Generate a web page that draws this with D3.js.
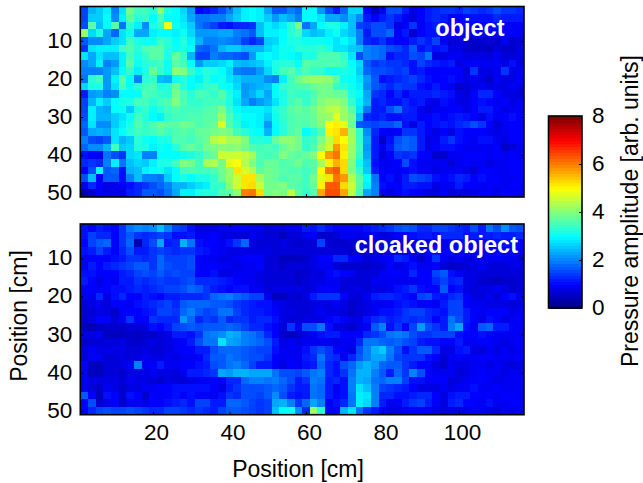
<!DOCTYPE html>
<html lang="en">
<head>
    <meta charset="UTF-8">
    <title>Pressure amplitude maps</title>
    <script src="https://d3js.org/d3.v7.min.js"></script>
    <style>
        html, body { margin: 0; padding: 0; background: #fff; }
        svg { display: block; }
        text { font-family: "Liberation Sans", Arial, sans-serif; fill: #000; }
        .cell { shape-rendering: crispEdges; }
        .tick text { font-size: 22.5px; }
        .tick line { stroke: #000; stroke-width: 1; }
        .domain { display: none; }
        .frame { fill: none; stroke: #000; stroke-width: 1.6; }
    </style>
</head>
<body>
<div id="chart"></div>
<script>
// amplitude per cell, rows top to bottom, 25 rows of 58 (2 cm sampling)
const objectRows = [
[1.5,2.4,2.6,2.9,2.0,2.8,3.9,3.5,3.5,3.3,4.1,3.2,3.0,2.7,2.2,1.0,1.1,1.3,1.6,2.0,2.5,2.9,3.0,2.9,2.3,1.7,1.7,2.0,1.8, 3.0,3.0,2.2,1.6,1.2,1.8,2.7,2.7,1.0,0.5,1.0,1.6,1.6,1.2,0.8,1.0,1.2,1.3,1.4,1.4,1.3,1.5,1.4,1.3,1.4,1.6,1.4,1.4,1.3],
[1.5,2.6,2.6,3.0,2.1,2.9,3.7,3.3,3.4,3.0,3.6,3.0,3.0,2.8,2.3,1.9,1.9,2.0,2.0,2.3,2.6,2.9,3.0,2.9,2.6,2.2,2.5,2.3,2.0, 3.0,3.0,2.8,2.3,2.3,2.1,2.5,2.1,1.2,1.0,1.2,1.4,1.2,0.9,0.7,1.0,1.2,1.3,1.2,1.0,1.0,1.1,1.1,1.1,1.1,1.3,1.2,1.2,1.2],
[1.6,3.7,2.5,3.0,3.7,1.9,3.3,2.9,2.1,3.2,3.4,4.9,3.1,2.9,2.6,1.9,1.7,1.5,1.2,1.1,1.3,1.3,1.4,2.5,2.9,2.7,2.9,3.3,3.9, 1.9,2.3,3.0,3.2,3.2,2.9,2.5,1.5,1.4,1.6,1.6,1.4,0.8,1.0,1.4,0.9,1.1,1.2,1.1,1.0,1.0,1.1,1.0,1.0,1.0,1.1,0.9,0.9,1.0],
[4.2,2.7,3.2,2.3,1.8,2.8,3.1,2.3,2.3,2.9,3.0,3.0,2.9,3.1,2.7,2.2,2.2,2.2,2.3,2.3,2.0,1.9,1.7,2.5,2.9,2.9,3.0,3.3,3.5, 2.7,2.5,2.6,2.9,3.1,2.7,2.5,2.0,1.2,1.6,1.6,1.8,1.0,1.2,0.6,1.0,1.1,1.1,1.0,1.0,1.0,0.9,0.9,1.0,0.9,0.9,1.0,1.0,0.9],
[1.7,2.1,2.1,2.3,2.6,2.8,3.5,3.2,3.1,3.1,3.5,3.3,3.0,3.3,2.9,2.4,2.0,2.0,2.1,2.0,1.9,1.5,1.3,1.5,2.6,2.7,3.0,3.2,3.2, 3.1,3.1,3.1,3.0,2.8,3.0,2.8,2.0,1.3,1.2,1.4,1.1,1.0,1.0,1.2,1.4,1.2,1.5,0.9,0.7,0.7,0.7,0.6,0.6,0.7,0.6,0.9,0.6,0.7],
[1.4,2.8,2.9,2.9,2.9,3.5,3.6,3.3,3.6,3.7,3.7,3.3,3.1,3.2,3.0,1.8,1.7,1.9,2.4,2.6,2.6,2.4,2.4,2.4,2.7,2.9,3.1,3.1,3.3, 3.3,3.3,3.4,3.2,2.8,2.8,2.6,2.5,2.0,1.9,1.8,1.6,1.5,1.3,1.7,1.1,1.3,1.1,1.2,0.8,0.8,0.6,0.5,0.6,0.5,0.7,0.6,0.6,0.8],
[2.8,2.3,2.8,2.5,2.5,2.9,3.5,3.2,3.4,3.7,3.7,3.2,3.8,3.4,2.4,1.5,1.5,2.0,1.8,1.8,1.7,1.6,2.2,2.9,3.0,2.9,3.1,3.0,2.9, 3.2,3.2,3.6,3.6,3.6,3.4,2.8,1.6,2.0,1.9,1.8,1.1,1.3,1.3,1.6,1.5,1.9,0.8,0.8,0.9,0.9,0.8,0.8,0.8,0.7,0.9,0.7,0.7,0.8],
[2.1,2.3,2.9,2.0,2.2,2.9,3.7,3.1,3.3,3.4,3.5,3.1,3.7,3.5,3.0,2.2,2.6,2.6,2.7,2.9,2.5,2.4,2.5,2.6,2.9,3.2,3.3,3.3,3.0, 3.7,3.6,3.6,3.6,3.6,3.5,3.0,2.7,1.7,1.4,1.5,1.4,1.4,1.3,1.1,1.5,1.3,1.2,1.1,1.2,0.8,0.9,1.0,0.9,0.9,0.9,0.8,1.1,0.8],
[2.0,2.0,2.0,2.2,2.5,3.0,3.4,2.9,3.2,3.8,3.4,3.1,4.1,4.0,3.4,3.1,3.3,3.2,3.0,2.7,2.0,1.9,1.9,2.2,2.7,3.2,3.5,3.7,3.4, 3.6,3.4,3.4,3.1,3.1,3.2,3.1,2.6,1.8,1.6,1.6,1.5,1.4,1.5,1.1,1.2,1.0,1.0,1.0,1.0,1.0,0.7,1.4,0.8,0.8,0.9,1.4,0.8,0.9],
[1.9,3.3,3.5,2.2,2.9,3.7,3.0,2.0,3.3,3.4,2.5,2.4,3.1,3.3,3.0,2.9,3.3,3.0,3.1,2.8,2.6,2.4,2.4,2.4,2.1,2.0,2.9,3.5,3.9, 4.1,4.2,4.2,4.1,3.7,3.1,3.0,2.8,2.2,1.7,1.1,1.2,1.3,1.4,1.5,1.3,1.1,1.0,1.0,1.1,1.0,0.8,0.9,0.8,0.6,0.9,0.8,0.8,1.0],
[2.7,3.2,3.2,2.2,2.8,3.6,3.1,3.3,3.5,3.6,3.2,3.3,3.8,3.3,3.0,3.2,3.4,3.5,3.1,3.0,2.7,2.2,2.3,2.4,2.5,3.0,3.4,3.5,3.6, 3.6,3.8,3.9,3.9,3.4,3.3,3.1,2.9,2.1,1.7,1.5,1.3,1.5,1.4,1.4,1.1,1.0,1.2,1.0,0.9,0.6,0.7,0.8,0.9,0.8,0.8,0.8,0.9,0.8],
[1.2,2.2,2.3,2.0,2.1,3.0,3.0,3.0,3.6,3.5,3.4,3.3,3.9,3.6,3.3,3.6,3.5,3.4,3.7,3.2,2.9,2.2,2.4,2.7,2.3,3.0,3.2,3.5,3.4, 3.4,3.6,3.9,3.9,3.8,3.8,3.2,3.0,2.3,1.4,1.3,1.0,1.3,1.0,1.2,1.2,1.2,1.3,1.2,1.1,0.8,0.7,1.0,1.3,1.3,1.0,0.8,0.8,0.7],
[1.5,2.4,2.9,2.6,3.0,3.2,3.2,3.6,3.5,3.3,3.5,3.6,4.0,3.6,3.4,3.4,3.5,3.5,3.5,3.2,2.8,2.3,2.0,2.2,2.4,2.8,3.2,3.5,3.7, 3.4,3.7,4.0,4.2,4.2,4.0,3.4,2.9,2.4,1.2,1.3,1.1,1.1,1.3,1.1,1.2,0.9,0.8,1.1,1.0,0.8,0.8,1.0,1.1,1.0,0.9,1.0,0.8,0.9],
[1.5,2.9,2.4,2.3,3.0,3.1,2.6,3.2,3.4,3.1,3.3,3.5,3.6,3.5,3.5,3.5,3.6,3.7,4.0,3.4,3.0,2.9,2.9,2.9,2.8,3.2,3.4,3.7,3.8, 3.7,3.9,4.2,4.4,4.5,4.2,3.7,2.8,1.9,1.2,1.2,1.6,1.9,1.3,1.2,0.9,0.7,0.9,0.9,1.0,1.0,0.8,1.0,1.2,1.2,1.0,0.8,0.9,0.9],
[1.6,2.9,2.4,2.4,2.6,2.8,3.1,3.5,3.3,3.0,2.9,3.4,3.5,3.5,3.6,3.6,3.7,3.7,4.2,3.6,3.2,3.0,3.0,2.9,2.6,3.1,3.4,3.6,3.7, 3.7,3.8,4.1,4.2,4.8,4.2,3.9,2.5,1.3,1.2,1.3,1.1,1.1,1.2,1.2,0.9,1.0,1.1,1.0,1.1,1.2,1.1,1.0,0.8,1.1,0.9,1.0,1.1,1.0],
[1.8,2.8,2.1,2.1,2.6,2.9,3.2,3.6,3.4,3.6,3.8,3.7,3.7,3.9,3.8,3.6,3.7,3.8,4.7,3.6,3.3,2.9,3.0,2.9,2.2,3.0,3.3,3.6,3.7, 3.6,3.8,4.0,5.0,5.1,4.8,3.8,1.7,1.6,1.5,1.6,1.6,1.8,1.1,0.8,1.2,1.0,1.1,1.2,1.1,1.3,1.4,1.6,1.4,1.0,0.7,0.9,1.0,1.0],
[1.7,2.3,2.4,2.3,2.8,3.0,3.3,3.5,3.4,3.5,3.7,3.5,3.6,3.7,3.6,3.8,3.8,3.9,4.0,3.9,3.5,3.3,3.1,3.0,2.4,3.0,3.3,3.6,3.8, 3.0,3.3,3.6,5.1,5.2,5.6,4.2,3.4,2.1,1.3,1.0,0.9,1.0,1.4,1.4,1.2,1.0,0.8,1.0,0.8,1.1,1.0,1.0,1.0,0.9,0.8,0.9,1.0,1.0],
[2.0,1.6,1.5,1.7,2.8,2.4,2.6,3.3,3.1,3.0,3.2,3.2,3.6,3.6,3.5,3.7,3.8,4.4,4.6,4.3,4.3,4.0,3.3,3.3,3.2,3.8,4.1,4.1,3.9, 3.4,3.5,4.0,4.5,5.3,5.0,4.3,3.4,2.3,1.2,0.6,1.1,1.6,1.8,1.7,1.2,0.8,0.9,1.2,1.4,1.1,1.0,0.9,1.1,1.1,0.9,0.8,1.0,1.0],
[1.8,2.1,2.1,2.4,3.5,2.6,2.7,3.3,3.2,2.9,3.1,3.0,3.3,3.7,3.8,3.6,3.9,4.0,4.1,4.0,4.1,3.9,3.6,3.5,3.6,3.5,3.8,4.0,3.9, 3.4,3.6,4.2,4.6,5.8,5.2,4.2,3.5,2.2,1.2,0.9,1.2,1.7,1.8,1.7,1.2,0.8,1.0,1.1,1.1,1.0,0.9,0.9,0.9,0.9,1.0,0.6,0.7,0.9],
[1.1,1.0,0.9,1.9,1.6,1.4,2.7,2.8,2.0,2.0,3.0,3.0,3.0,3.1,3.2,3.4,3.7,3.8,4.6,4.6,4.6,4.5,4.3,3.6,3.5,3.6,4.0,3.8,3.7, 3.8,4.0,5.0,5.8,6.1,5.1,4.2,3.4,2.3,1.2,0.7,1.0,1.4,1.3,1.4,1.0,1.0,0.6,0.6,0.9,0.9,1.0,1.0,1.0,0.9,1.0,0.9,1.0,0.9],
[1.3,1.4,1.3,2.0,2.9,1.9,2.5,2.7,2.6,2.9,3.2,3.2,3.5,4.0,3.9,3.5,4.3,4.4,3.9,4.8,5.0,4.4,4.0,3.6,3.8,3.8,3.6,3.7,3.9, 3.6,3.7,4.3,5.1,5.6,5.3,4.0,3.1,2.5,1.1,0.9,0.9,1.0,1.6,1.1,0.9,0.9,0.9,0.9,0.7,0.9,1.0,0.9,0.9,0.8,0.9,0.9,1.0,1.0],
[1.0,1.6,3.0,1.7,1.8,1.1,2.4,2.5,2.9,3.0,3.1,2.8,3.0,3.5,3.6,3.5,3.5,3.6,3.9,4.2,5.2,4.7,4.4,3.7,3.9,3.8,3.7,3.6,3.6, 3.5,3.7,5.0,6.1,6.3,5.3,4.0,3.4,2.6,1.2,0.9,1.0,0.9,1.0,1.1,0.9,0.9,0.8,0.9,0.9,0.9,0.8,0.7,1.0,1.0,0.9,0.9,1.0,1.0],
[1.6,2.5,1.0,1.7,1.7,1.1,2.0,2.5,2.0,2.0,1.9,2.6,3.0,3.2,3.0,3.2,3.2,3.4,3.8,4.2,4.6,5.2,5.2,4.3,3.9,3.8,3.6,3.7,3.7, 3.5,3.9,4.8,5.2,6.1,5.8,4.4,3.7,3.0,1.9,1.0,1.1,0.9,1.2,1.6,1.5,1.4,1.1,1.0,1.1,1.3,1.2,1.0,1.1,1.0,1.0,0.9,0.9,1.0],
[0.9,1.3,1.0,0.8,0.9,0.9,1.1,1.3,1.4,1.6,1.8,2.0,2.4,2.4,2.6,2.8,2.9,3.4,3.4,4.1,4.6,5.2,5.3,4.6,3.9,3.9,4.0,3.7,3.6, 3.5,3.8,5.1,6.3,6.3,5.3,4.6,3.7,2.9,2.0,1.1,1.0,1.0,1.2,1.2,1.1,1.1,0.8,0.9,0.9,1.2,1.0,1.0,0.9,1.0,0.9,0.9,1.0,1.0],
[0.4,0.6,0.9,0.8,0.8,0.8,1.2,1.3,1.7,1.7,1.6,1.9,2.3,2.9,2.9,3.2,3.3,3.3,3.6,3.7,4.1,6.0,6.1,5.3,3.9,4.0,3.9,4.5,3.7, 3.4,3.7,5.7,6.4,6.4,5.7,4.5,3.6,2.3,2.0,0.9,0.7,0.9,1.1,1.0,0.9,0.7,0.7,0.9,0.7,0.8,0.7,0.8,0.9,0.9,0.8,1.0,0.9,0.9]
];

const cloakedRows = [
[1.1,1.0,1.2,1.1,1.0,1.4,1.9,2.1,2.0,2.1,2.5,2.0,1.5,1.4,1.1,0.8,0.8,0.8,0.9,0.9,1.0,1.0,0.9,0.9,0.7,0.8,0.8,0.9,0.9, 1.2,1.1,1.3,1.1,1.0,1.0,1.0,1.0,1.1,1.2,1.3,1.4,1.6,1.7,1.6,1.3,1.3,1.5,1.5,1.4,1.3,1.2,1.6,1.2,1.9,1.6,2.1,1.7,1.6],
[1.1,1.5,1.3,1.3,1.0,1.4,1.7,1.4,1.3,1.4,1.5,1.4,1.1,1.1,1.2,0.9,0.9,1.0,0.8,0.8,0.7,0.7,0.9,0.8,0.7,0.7,0.5,0.7,0.7, 0.9,1.0,0.6,0.6,0.7,0.9,0.9,0.8,0.9,0.9,0.7,0.8,1.0,0.9,1.1,1.2,1.2,1.1,1.3,1.3,1.3,1.1,1.2,1.2,1.2,1.3,1.2,1.2,1.3],
[1.0,1.5,1.7,1.8,1.0,1.4,1.8,0.4,1.3,1.6,2.3,1.2,1.3,2.4,1.9,1.1,1.0,1.0,0.9,1.1,1.4,1.8,0.8,0.7,0.7,0.7,0.8,0.7,0.6, 0.7,0.7,1.5,0.7,0.6,0.6,0.7,0.8,0.7,0.6,0.7,0.8,0.7,0.7,0.9,0.9,0.8,0.8,0.9,1.0,1.0,1.0,1.0,1.0,1.0,1.1,1.1,1.0,1.0],
[1.1,1.2,1.5,1.2,1.0,1.3,1.6,1.2,1.2,1.4,1.5,1.4,1.3,1.4,1.4,1.2,1.1,1.0,0.9,0.8,0.8,0.8,0.8,0.8,0.8,0.7,0.7,0.7,0.7, 0.7,0.7,0.7,0.7,0.7,0.7,0.6,0.7,0.7,0.8,0.7,0.7,0.7,0.8,0.8,1.0,0.9,1.1,1.0,1.0,0.9,0.9,1.0,0.8,0.9,0.9,0.9,0.9,0.9],
[1.0,1.0,1.0,1.0,1.1,1.2,1.4,1.4,1.3,1.4,1.8,1.5,1.5,1.5,1.6,1.0,0.9,0.9,0.8,0.8,0.9,1.0,1.0,1.0,0.7,0.7,0.5,0.5,0.5, 0.6,0.8,1.0,1.0,1.3,1.3,1.0,0.9,0.7,0.8,0.9,1.0,1.3,1.2,0.9,0.6,0.9,1.4,0.9,0.8,0.9,0.8,0.8,0.8,0.9,0.9,0.9,0.9,0.8],
[0.9,1.2,1.0,1.2,1.3,1.4,1.5,1.7,1.7,1.4,1.8,1.6,1.5,1.5,1.6,1.0,1.0,1.0,0.9,0.9,0.8,0.9,0.9,1.0,0.7,0.7,0.6,0.7,0.7, 0.7,0.8,0.9,0.9,0.7,0.6,0.6,0.6,0.6,0.7,0.7,1.0,0.8,0.9,1.1,0.9,0.9,1.0,0.7,0.6,0.6,0.7,0.8,0.9,0.7,0.7,0.7,0.8,0.8],
[1.1,1.1,1.0,1.0,1.0,1.2,1.3,1.5,1.6,1.5,1.7,1.5,1.6,1.5,1.5,1.0,1.0,1.1,0.8,0.8,0.9,0.9,0.9,0.8,0.7,0.7,0.7,0.7,0.6, 0.6,0.8,0.7,1.0,1.1,1.0,0.9,0.7,0.7,0.7,0.9,1.0,1.0,0.9,1.3,1.0,1.0,1.5,1.7,1.1,0.9,0.8,0.8,0.7,0.7,0.7,0.7,0.7,0.7],
[1.2,1.0,0.8,1.0,0.9,1.2,1.2,1.4,1.3,1.4,1.5,1.4,1.4,1.5,1.6,1.3,1.3,1.3,1.2,1.1,1.0,0.9,0.9,0.8,0.7,0.7,0.7,0.7,0.6, 0.7,0.8,0.8,0.9,0.9,0.7,0.7,0.7,0.7,0.9,0.9,0.9,0.9,0.9,0.9,1.0,1.0,1.3,1.5,1.2,1.3,0.8,0.8,0.6,0.6,0.5,0.6,0.6,0.7],
[1.0,1.0,0.9,1.0,1.1,1.1,1.2,1.3,1.2,1.3,1.4,1.5,1.5,1.6,1.8,1.7,1.4,1.2,1.1,1.0,1.1,1.1,0.9,0.9,0.7,0.8,0.8,0.8,0.8, 0.7,0.8,1.0,1.0,0.9,0.7,0.8,0.8,0.7,0.8,0.8,0.9,1.1,1.2,1.4,1.1,1.0,1.0,1.7,1.0,1.1,0.8,0.7,0.8,0.8,0.9,0.8,0.6,0.7],
[0.9,0.9,1.3,0.8,1.1,1.3,1.0,1.0,1.2,1.1,1.0,1.2,1.2,1.3,1.3,1.3,1.4,1.8,1.9,2.0,1.8,1.7,1.5,1.5,0.9,0.5,0.5,0.7,0.6, 0.8,1.2,1.4,1.4,1.4,1.0,0.7,0.7,0.9,1.2,1.3,1.3,1.2,1.1,1.0,1.5,1.6,1.2,1.1,1.3,1.4,1.0,0.8,0.7,0.9,0.7,1.0,1.1,0.9],
[0.7,0.8,0.9,0.7,1.0,1.0,0.9,1.1,1.2,1.3,1.4,1.5,1.3,1.7,1.8,1.8,1.8,1.7,1.7,1.6,1.4,1.3,1.2,1.1,1.1,0.9,0.8,0.7,0.7, 0.7,0.8,0.8,0.8,0.9,0.8,0.6,0.7,0.8,0.9,0.9,1.0,1.1,1.2,1.1,0.9,1.0,0.9,1.2,1.5,1.5,1.0,0.9,0.9,0.8,0.8,0.8,0.7,0.8],
[0.7,0.7,0.8,0.8,0.6,0.9,1.0,1.0,1.1,1.2,1.5,1.5,1.4,1.8,2.0,1.7,1.5,1.6,1.9,1.9,1.5,1.3,1.2,1.2,1.1,1.0,0.8,0.8,0.7, 0.7,0.8,0.9,0.8,0.8,0.7,0.6,0.7,0.8,0.9,1.1,1.1,1.2,1.4,1.5,1.5,1.3,1.2,1.1,1.5,1.5,1.2,1.0,0.9,1.0,1.0,1.0,0.8,0.9],
[0.6,0.8,1.0,1.0,0.7,0.9,1.4,1.0,1.0,1.4,1.3,1.3,1.3,2.2,1.8,1.3,1.5,1.4,1.7,1.3,1.4,1.4,1.2,1.3,1.3,1.1,0.8,0.7,0.7, 0.8,0.8,0.8,1.0,1.1,1.0,0.8,0.8,1.1,1.3,1.4,1.2,1.3,1.4,1.3,1.4,1.3,1.0,1.2,1.9,1.6,1.2,1.0,0.8,1.1,1.0,0.8,0.9,1.0],
[0.5,0.4,0.5,0.6,0.6,0.6,0.7,0.7,0.8,1.1,1.0,1.2,1.5,1.6,1.7,1.6,1.7,1.7,1.7,1.8,1.7,1.5,1.3,1.3,1.1,1.0,0.7,1.4,0.9, 1.6,1.6,1.9,1.1,0.8,0.7,0.6,0.8,0.9,1.7,2.0,1.1,1.4,1.0,1.5,2.2,1.6,1.4,1.2,2.0,2.3,1.1,0.9,1.7,1.8,1.2,1.2,1.0,0.9],
[0.8,0.8,0.9,0.5,0.5,0.5,0.6,0.5,0.6,0.6,0.7,0.8,1.2,1.2,1.1,1.4,1.9,2.0,2.1,2.4,2.3,2.0,1.9,1.7,1.3,1.0,0.6,0.5,0.6, 0.8,0.9,1.1,1.2,1.2,1.0,1.0,1.0,1.3,1.4,1.6,1.9,2.0,1.9,1.6,1.4,1.4,1.5,1.5,1.5,1.1,1.0,1.0,1.1,1.0,0.9,0.9,0.9,0.9],
[0.6,0.7,0.7,0.7,0.7,0.8,0.6,0.6,0.7,0.8,0.7,0.8,0.9,1.0,1.2,1.6,1.9,1.9,2.8,2.3,2.2,2.0,1.9,1.8,1.6,1.2,0.8,0.9,0.8, 0.9,0.9,0.9,0.9,0.8,0.9,0.9,1.3,1.9,1.9,1.8,1.7,1.8,1.6,1.5,1.2,1.1,1.1,1.0,1.0,1.2,0.9,0.9,1.0,1.0,0.9,0.8,0.9,1.0],
[0.8,0.9,0.8,0.8,0.8,0.8,0.7,0.7,0.8,0.7,0.7,0.8,0.9,1.0,1.0,1.2,1.2,1.6,1.8,1.8,1.8,1.7,1.6,1.5,1.5,1.1,0.9,0.9,0.9, 1.1,1.4,1.6,1.4,1.0,0.9,0.8,1.6,2.0,2.4,2.6,2.0,1.6,1.1,1.4,1.7,1.7,1.3,0.8,0.8,1.1,1.2,0.8,0.7,0.9,0.8,0.9,0.8,0.9],
[0.7,0.9,0.9,0.7,0.7,0.8,0.7,0.8,0.9,0.8,0.8,0.9,0.8,0.9,0.9,1.0,1.3,1.7,1.7,1.9,1.8,1.7,1.6,1.6,1.4,1.0,0.9,0.9,0.9, 1.2,1.3,1.9,1.4,1.3,0.9,1.3,1.7,2.0,2.3,2.3,1.9,1.5,1.4,1.4,1.4,1.1,1.0,0.7,0.9,1.0,0.9,0.9,1.0,1.0,0.9,0.9,0.9,1.0],
[1.0,0.5,0.5,0.7,0.7,0.8,0.9,2.0,0.9,1.0,1.2,0.9,0.9,1.0,1.0,1.1,1.2,1.6,1.7,1.9,2.0,1.8,1.5,1.2,1.2,1.0,0.8,1.0,0.9, 1.1,1.2,1.8,1.3,1.1,1.6,1.8,2.2,2.4,2.2,1.8,1.7,1.7,1.4,1.2,1.0,1.0,0.8,0.6,0.9,0.8,0.8,0.9,0.9,0.8,0.9,0.8,0.7,0.8],
[0.9,0.5,0.5,0.7,0.7,0.6,0.8,0.8,0.8,0.9,0.8,0.8,0.7,0.9,1.2,1.2,1.3,1.4,2.3,2.2,2.4,2.4,2.3,2.3,2.3,1.9,1.6,1.6,1.5, 1.7,1.9,2.0,1.3,1.1,1.4,1.9,2.4,2.4,2.0,1.7,1.2,1.8,1.4,2.0,1.6,1.0,0.9,0.9,0.9,0.7,0.8,0.9,1.0,0.9,0.9,0.8,0.9,0.9],
[0.9,0.8,0.8,0.8,0.8,0.7,0.9,0.8,0.8,0.7,0.6,0.8,0.7,0.7,0.8,0.9,0.9,1.0,1.0,1.3,1.3,1.8,2.0,2.0,1.9,2.0,1.8,1.6,1.2, 1.4,2.0,1.9,1.2,1.3,1.1,2.0,2.4,2.3,1.9,1.8,2.0,2.0,1.5,1.1,1.1,0.9,1.0,1.0,0.7,0.8,0.9,1.0,1.0,0.9,0.8,0.9,0.9,0.9],
[0.9,0.7,0.6,0.9,0.8,0.6,0.8,0.8,0.9,0.9,1.0,1.0,1.1,1.1,1.1,1.1,1.1,1.0,0.8,1.2,1.4,1.6,1.6,1.6,1.7,1.8,1.7,1.4,1.2, 1.2,1.9,1.8,1.2,0.9,1.1,2.0,2.8,2.5,2.0,1.5,1.4,1.3,1.2,1.0,0.8,0.8,0.8,0.9,0.8,0.9,0.9,1.1,0.9,0.9,1.0,0.9,0.9,0.9],
[1.7,1.0,0.5,1.1,1.0,0.6,1.1,1.0,0.6,1.0,0.9,1.0,1.1,1.0,1.1,1.0,1.0,0.9,1.1,1.4,1.3,1.6,1.6,1.5,1.7,2.1,1.6,1.2,1.1, 1.2,1.9,1.8,1.2,1.0,1.1,1.9,2.9,2.8,2.0,1.3,1.3,1.1,1.1,1.2,1.3,1.3,1.0,0.8,1.1,1.2,1.2,1.0,1.0,1.0,0.9,1.0,1.0,0.9],
[1.0,1.6,0.6,0.8,1.0,0.6,0.9,0.9,0.8,1.0,1.0,1.1,1.2,1.3,1.1,1.5,1.5,1.2,1.2,1.8,1.8,1.7,1.5,1.4,1.5,2.3,2.4,2.0,1.4, 1.8,2.3,2.0,0.9,1.1,1.3,1.9,2.9,2.7,2.0,1.2,0.9,0.9,1.2,1.4,1.5,1.2,1.0,0.8,1.2,1.3,1.0,1.0,0.9,1.1,0.9,0.9,1.0,1.0],
[1.0,1.3,1.5,1.6,1.5,1.5,1.6,1.5,1.4,1.3,1.3,1.5,1.5,1.4,1.3,1.4,1.3,1.2,1.5,1.7,1.7,1.6,1.5,1.4,1.5,2.5,3.0,3.1,2.1, 1.3,4.2,3.3,1.0,1.0,2.4,2.8,1.9,1.4,1.2,1.0,0.7,0.8,0.9,1.0,1.0,0.9,0.8,0.7,0.8,0.7,0.8,0.9,0.9,0.8,0.7,0.9,0.8,0.9]
];

const xTicks = [20, 40, 60, 80, 100];
const yTicks = [10, 20, 30, 40, 50];
const barTicks = [0, 2, 4, 6, 8];

const width = 643, height = 483;
const left = 80.3, right = 524;

const svg = d3.select("#chart").append("svg")
    .attr("width", width)
    .attr("height", height);

// matlab jet
const color = d3.scaleLinear()
    .domain([0, 1, 3, 5, 7, 8])
    .range(["#00007f", "#0000ff", "#00ffff", "#ffff00", "#ff0000", "#7f0000"])
    .clamp(true);

const x = d3.scaleLinear().domain([1, 117]).range([left, right]);

function drawPanel(rows, top, bottom, title, titleX, showX) {
    const y = d3.scaleLinear().domain([1, 51]).range([top, bottom]);
    const g = svg.append("g");

    rows.forEach((row, r) => {
        g.selectAll(null)
            .data(row)
            .enter().append("rect")
            .attr("class", "cell")
            .attr("x", (d, c) => x(2 * c + 1))
            .attr("y", y(2 * r + 1))
            .attr("width", (d, c) => x(2 * c + 3) - x(2 * c + 1))
            .attr("height", y(3) - y(1))
            .attr("fill", d => color(d));
    });

    const tickLen = 3;
    const bottomAxis = g.append("g").attr("transform", `translate(0,${bottom})`)
        .call(d3.axisBottom(x).tickValues(xTicks).tickSizeInner(-tickLen).tickPadding(9)
            .tickFormat(showX ? d3.format("d") : ""));
    // printed labels sit a little right of their ticks
    bottomAxis.selectAll("text").attr("dx", 3);
    g.append("g").attr("transform", `translate(0,${top})`)
        .call(d3.axisTop(x).tickValues(xTicks).tickSizeInner(-tickLen).tickFormat(""));
    const leftAxis = g.append("g").attr("transform", `translate(${left},0)`)
        .call(d3.axisLeft(y).tickValues(yTicks).tickSizeInner(-tickLen).tickPadding(8).tickFormat(d3.format("d")));
    leftAxis.selectAll("text").attr("dy", "0.29em");
    g.append("g").attr("transform", `translate(${right},0)`)
        .call(d3.axisRight(y).tickValues(yTicks).tickSizeInner(-tickLen).tickFormat(""));

    g.append("rect").attr("class", "frame")
        .attr("x", left).attr("y", top)
        .attr("width", right - left).attr("height", bottom - top);

    g.append("text")
        .attr("x", titleX)
        .attr("y", top + 29)
        .attr("text-anchor", "end")
        .style("font-size", "23.5px")
        .style("font-weight", "bold")
        .style("fill", "#fff")
        .text(title);
}

drawPanel(objectRows, 6.5, 197, "object", 504.5, false);
drawPanel(cloakedRows, 224, 414.7, "cloaked object", 518, true);

// colorbar, 64 steps like the jet map
const barLevels = d3.range(64);
const barX0 = 548.5, barX1 = 582, barTop = 116, barBottom = 308;
const barScale = d3.scaleLinear().domain([0, 8]).range([barBottom, barTop]);

svg.append("g").selectAll("rect")
    .data(barLevels)
    .enter().append("rect")
    .attr("class", "cell")
    .attr("x", barX0)
    .attr("width", barX1 - barX0)
    .attr("y", d => barScale((d + 1) / 8))
    .attr("height", barScale(0) - barScale(1 / 8) + 0.5)
    .attr("fill", d => color((d + 0.5) / 8));

const barAxis = svg.append("g").attr("transform", `translate(${barX1},0)`)
    .call(d3.axisRight(barScale).tickValues(barTicks).tickSizeInner(-3).tickPadding(10).tickFormat(d3.format("d")));
barAxis.selectAll("text").attr("dy", "0.29em");

svg.append("rect").attr("class", "frame")
    .attr("x", barX0).attr("y", barTop)
    .attr("width", barX1 - barX0).attr("height", barBottom - barTop);

// axis titles
svg.append("text")
    .attr("x", 298).attr("y", 477)
    .attr("text-anchor", "middle")
    .style("font-size", "23px")
    .text("Position [cm]");

svg.append("text")
    .attr("transform", "translate(27,316) rotate(-90)")
    .attr("text-anchor", "middle")
    .style("font-size", "23px")
    .text("Position [cm]");

svg.append("text")
    .attr("transform", "translate(638,211) rotate(-90)")
    .attr("text-anchor", "middle")
    .style("font-size", "23px")
    .text("Pressure amplitude [arb. units]");
</script>
</body>
</html>
